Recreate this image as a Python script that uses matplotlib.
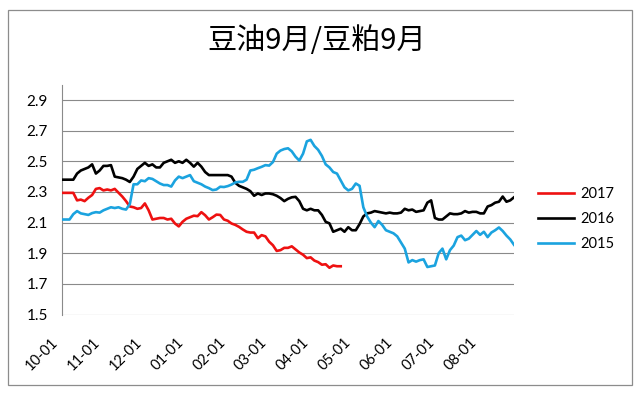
#=========================#
#  module                 #
#=========================#
import numpy as np
import matplotlib
matplotlib.use('Agg')
import matplotlib.pyplot as plt
import matplotlib.transforms as mtrans
from matplotlib.patches import Rectangle

plt.rcParams['font.family'] = ['Lato', 'DejaVu Sans']

#=========================#
#  data                   #
#=========================#
title = '豆油9月/豆粕9月'
month_labels = ['10-01', '11-01', '12-01', '01-01', '02-01', '03-01',
                '04-01', '05-01', '06-01', '07-01', '08-01']
y_ticks = [1.5, 1.7, 1.9, 2.1, 2.3, 2.5, 2.7, 2.9]

# ratio sampled every 2 trading days
s2017 = [2.294, 2.294, 2.294, 2.294, 2.245, 2.25, 2.24, 2.262, 2.28, 2.32,
         2.325, 2.31, 2.316, 2.31, 2.32, 2.295, 2.27, 2.24, 2.205, 2.20,
         2.19, 2.195, 2.225, 2.18, 2.12, 2.125, 2.13, 2.13, 2.12, 2.125,
         2.094, 2.075, 2.105, 2.125, 2.135, 2.145, 2.142, 2.168, 2.148, 2.12,
         2.135, 2.152, 2.15, 2.12, 2.112, 2.094, 2.085, 2.072, 2.055, 2.04,
         2.035, 2.035, 1.998, 2.018, 2.01, 1.975, 1.952, 1.915, 1.92, 1.935,
         1.935, 1.945, 1.925, 1.905, 1.89, 1.868, 1.873, 1.852, 1.842, 1.825,
         1.828, 1.805, 1.82, 1.815, 1.815]

s2016 = [2.38, 2.38, 2.38, 2.38, 2.42, 2.44, 2.45, 2.46, 2.48, 2.42,
         2.44, 2.47, 2.47, 2.475, 2.40, 2.395, 2.39, 2.38, 2.365, 2.40,
         2.45, 2.47, 2.49, 2.47, 2.48, 2.46, 2.46, 2.49, 2.50, 2.51,
         2.49, 2.50, 2.49, 2.51, 2.49, 2.465, 2.49, 2.465, 2.43, 2.41,
         2.41, 2.41, 2.41, 2.41, 2.41, 2.40, 2.36, 2.34, 2.33, 2.32,
         2.305, 2.275, 2.29, 2.28, 2.29, 2.29, 2.285, 2.275, 2.26, 2.24,
         2.255, 2.265, 2.268, 2.24, 2.19, 2.18, 2.19, 2.18, 2.18, 2.15,
         2.105, 2.095, 2.04, 2.05, 2.06, 2.04, 2.07, 2.05, 2.05, 2.09,
         2.14, 2.16, 2.165, 2.175, 2.17, 2.165, 2.16, 2.165, 2.16, 2.16,
         2.165, 2.19, 2.18, 2.185, 2.17, 2.175, 2.18, 2.23, 2.245, 2.13,
         2.12, 2.12, 2.14, 2.16, 2.155, 2.155, 2.16, 2.175, 2.165, 2.17,
         2.17, 2.16, 2.16, 2.205, 2.214, 2.23, 2.236, 2.27, 2.236, 2.245,
         2.265]

s2015 = [2.12, 2.12, 2.12, 2.155, 2.175, 2.16, 2.155, 2.15, 2.162, 2.168,
         2.165, 2.18, 2.19, 2.20, 2.195, 2.20, 2.19, 2.185, 2.22, 2.35,
         2.35, 2.375, 2.37, 2.39, 2.385, 2.37, 2.355, 2.345, 2.345, 2.335,
         2.375, 2.40, 2.39, 2.40, 2.41, 2.37, 2.36, 2.35, 2.335, 2.325,
         2.312, 2.316, 2.334, 2.332, 2.338, 2.348, 2.362, 2.366, 2.366, 2.38,
         2.44, 2.445, 2.455, 2.464, 2.475, 2.472, 2.495, 2.55, 2.57, 2.58,
         2.585, 2.565, 2.53, 2.505, 2.55, 2.63, 2.64, 2.60, 2.575, 2.535,
         2.48, 2.46, 2.43, 2.42, 2.375, 2.33, 2.31, 2.32, 2.355, 2.34,
         2.20, 2.14, 2.10, 2.07, 2.11, 2.085, 2.05, 2.04, 2.03, 2.01,
         1.97, 1.93, 1.84, 1.855, 1.845, 1.855, 1.86, 1.81, 1.815, 1.82,
         1.90, 1.93, 1.86, 1.92, 1.95, 2.005, 2.015, 1.985, 1.995, 2.02,
         2.045, 2.02, 2.04, 2.005, 2.035, 2.05, 2.068, 2.045, 2.015, 1.99,
         1.955]

#=========================#
#  figure                 #
#=========================#
fig = plt.figure(figsize=(6.39, 3.97), dpi=100, facecolor='white')
ax = fig.add_axes([62/639, 1-314.5/397, 452/639, 229.8/397], facecolor='white')

month_step = 11.1  # samples per month label

ax.plot(np.arange(len(s2017)), s2017, c='#EE1111', lw=1.9, label='2017', zorder=3)
ax.plot(np.arange(len(s2016)), s2016, c='#000000', lw=1.9, label='2016', zorder=3)
ax.plot(np.arange(len(s2015)), s2015, c='#1BA3DF', lw=1.9, label='2015', zorder=3)

# lim
ax.set_xlim(0, len(s2015)-1)
ax.set_ylim(1.5, 3.0)

# ticks
ax.set_yticks(y_ticks)
ax.set_yticklabels(['{:.1f}'.format(v) for v in y_ticks])
ax.set_xticks([i*month_step for i in range(len(month_labels))])
ax.set_xticklabels(month_labels, rotation=45, ha='right', va='top', rotation_mode='anchor')
ax.tick_params(axis='y', length=0, pad=10, labelsize=11, colors='black')
ax.tick_params(axis='x', length=0, pad=15, labelsize=10.5, colors='black')
shift = mtrans.ScaledTranslation(-0.11, 0, fig.dpi_scale_trans)
for lab in ax.get_xticklabels():
    lab.set_transform(lab.get_transform() + shift)

# grid
ax.grid(axis='y', color='#8a8a8a', lw=0.8)
ax.set_axisbelow(True)
for side in ['top', 'right', 'bottom']:
    ax.spines[side].set_visible(False)
ax.spines['left'].set_color('#8a8a8a')
ax.spines['left'].set_linewidth(0.8)

# legend
ax.legend(loc='center left', bbox_to_anchor=(538/639, 1-219/397), bbox_transform=fig.transFigure,
          frameon=False, fontsize=10.5, handlelength=2.5, handletextpad=0.4,
          labelspacing=0.75, borderpad=0, borderaxespad=0)

# title
fig.text(316.5/639, 1-41/397, title, ha='center', va='center', fontsize=21,
         family=['Noto Sans CJK SC', 'DejaVu Sans'])

# frame
fig.patches.append(Rectangle((7.5/639, 1-385/397), 624/639, 375/397, transform=fig.transFigure,
                             fill=False, ec='#8c8c8c', lw=0.9))

fig.savefig('out.png', dpi=100, facecolor='white')
